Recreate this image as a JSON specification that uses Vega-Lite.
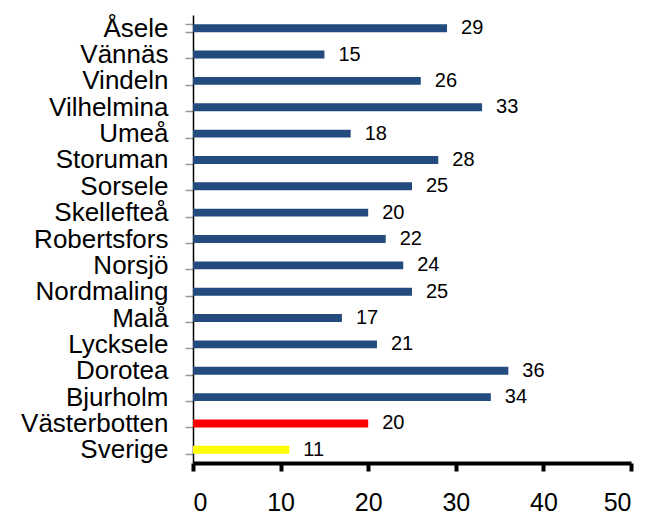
{
  "$schema": "https://vega.github.io/schema/vega-lite/v6.json",
  "autosize": "none",
  "padding": {"left": 193, "top": 15, "right": 16, "bottom": 52},
  "width": 438,
  "height": 448,
  "background": "white",
  "config": {"view": {"stroke": null}, "font": "Liberation Sans"},
  "data": {"values": [
    {"omrade": "Åsele", "varde": 29, "typ": "kommun"},
    {"omrade": "Vännäs", "varde": 15, "typ": "kommun"},
    {"omrade": "Vindeln", "varde": 26, "typ": "kommun"},
    {"omrade": "Vilhelmina", "varde": 33, "typ": "kommun"},
    {"omrade": "Umeå", "varde": 18, "typ": "kommun"},
    {"omrade": "Storuman", "varde": 28, "typ": "kommun"},
    {"omrade": "Sorsele", "varde": 25, "typ": "kommun"},
    {"omrade": "Skellefteå", "varde": 20, "typ": "kommun"},
    {"omrade": "Robertsfors", "varde": 22, "typ": "kommun"},
    {"omrade": "Norsjö", "varde": 24, "typ": "kommun"},
    {"omrade": "Nordmaling", "varde": 25, "typ": "kommun"},
    {"omrade": "Malå", "varde": 17, "typ": "kommun"},
    {"omrade": "Lycksele", "varde": 21, "typ": "kommun"},
    {"omrade": "Dorotea", "varde": 36, "typ": "kommun"},
    {"omrade": "Bjurholm", "varde": 34, "typ": "kommun"},
    {"omrade": "Västerbotten", "varde": 20, "typ": "län"},
    {"omrade": "Sverige", "varde": 11, "typ": "riket"}
  ]},
  "encoding": {
    "y": {
      "field": "omrade", "type": "nominal", "sort": null,
      "scale": {"paddingInner": 0.7, "paddingOuter": 0.35},
      "axis": {
        "title": null, "tickBand": "extent", "domainColor": "black", "domainWidth": 1.5,
        "tickColor": "#999999", "tickSize": 8, "tickWidth": 1.5,
        "labelFontSize": 26, "labelColor": "black", "labelPadding": 17,
        "labelFont": "Liberation Sans", "labelOverlap": false
      }
    },
    "x": {
      "field": "varde", "type": "quantitative",
      "scale": {"domain": [0, 50], "nice": false},
      "axis": {
        "title": null, "values": [0, 10, 20, 30, 40, 50], "grid": false,
        "domainColor": "black", "domainWidth": 4, "tickColor": "black",
        "tickWidth": 4, "tickSize": 8, "labelFontSize": 25, "labelColor": "black",
        "labelPadding": 19, "labelFont": "Liberation Sans", "labelOverlap": false
      }
    }
  },
  "layer": [
    {
      "mark": {"type": "bar"},
      "encoding": {
        "color": {
          "field": "typ", "type": "nominal",
          "scale": {"domain": ["kommun", "län", "riket"], "range": ["#234B7D", "#FF0000", "#FFFF00"]},
          "legend": null
        }
      }
    },
    {
      "mark": {"type": "text", "align": "left", "baseline": "middle", "dx": 14, "fontSize": 20, "font": "Liberation Sans", "color": "black"},
      "encoding": {"text": {"field": "varde", "type": "quantitative"}}
    }
  ]
}
